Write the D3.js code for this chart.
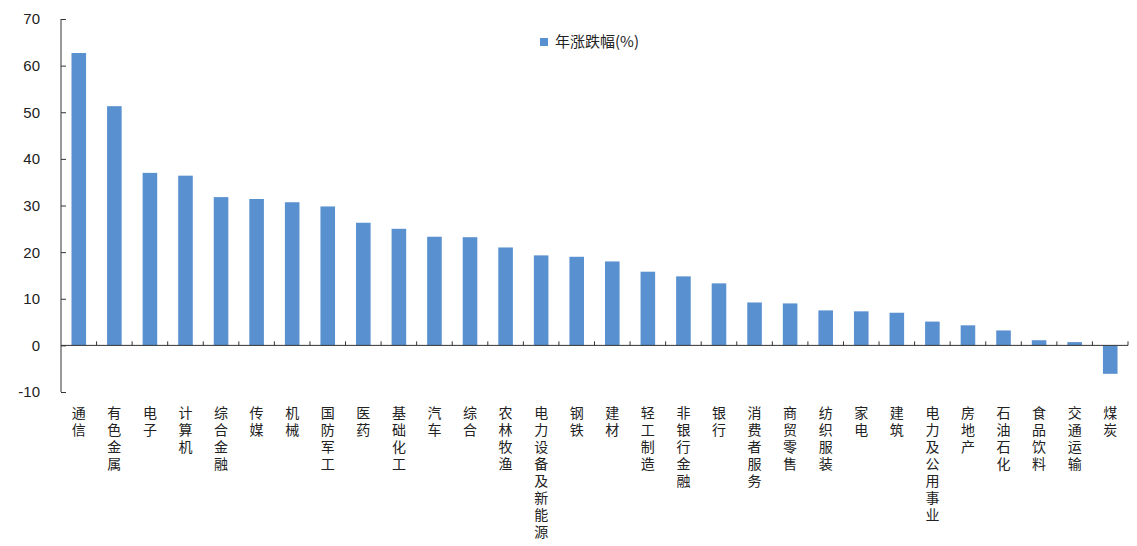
<!DOCTYPE html>
<html>
<head>
<meta charset="utf-8">
<script src="https://cdn.jsdelivr.net/npm/d3@7"></script>
<style>
  body { margin: 0; background: #fff; }
  svg { display: block; }
</style>
</head>
<body>
<div id="chart"></div>
<script>
var categories = ["通信", "有色金属", "电子", "计算机", "综合金融", "传媒", "机械", "国防军工", "医药", "基础化工",
    "汽车", "综合", "农林牧渔", "电力设备及新能源", "钢铁", "建材", "轻工制造", "非银行金融", "银行", "消费者服务",
    "商贸零售", "纺织服装", "家电", "建筑", "电力及公用事业", "房地产", "石油石化", "食品饮料", "交通运输", "煤炭"];
var values = [62.7, 51.3, 37.0, 36.4, 31.8, 31.4, 30.7, 29.8, 26.3, 25.0,
    23.3, 23.2, 21.0, 19.3, 19.0, 18.0, 15.8, 14.8, 13.3, 9.2,
    9.0, 7.5, 7.3, 7.0, 5.1, 4.3, 3.2, 1.1, 0.7, -6.1];
var yTicks = [-10, 0, 10, 20, 30, 40, 50, 60, 70];
var seriesName = "年涨跌幅(%)";

var size = { width: 1137, height: 546 };
var plot = { left: 61, right: 1128, top: 19, bottom: 392 };
var barColor = "#5990d0";
var axisColor = "#333";

var svg = d3.select("#chart").append("svg")
    .attr("width", size.width)
    .attr("height", size.height);

// Scales
var x = d3.scaleBand()
    .domain(categories)
    .range([plot.left, plot.right])
    .paddingInner(0.59)
    .paddingOuter(0.295);

var y = d3.scaleLinear()
    .domain([-10, 70])
    .range([plot.bottom, plot.top]);

// Bars
svg.append("g").selectAll("rect")
    .data(values)
    .enter()
    .append("rect")
    .attr("x", (d, i) => x(categories[i]))
    .attr("width", x.bandwidth())
    .attr("y", d => y(Math.max(0, d)))
    .attr("height", d => Math.abs(y(d) - y(0)))
    .attr("fill", barColor);

// Y axis (ticks point inward)
var yAxis = svg.append("g")
    .attr("transform", "translate(" + plot.left + ",0)")
    .call(d3.axisRight(y).tickValues(yTicks).tickSize(5).tickFormat(""));
yAxis.select(".domain").attr("stroke", axisColor).attr("d", "M0," + y(70) + "V" + y(-10));
yAxis.selectAll(".tick line").attr("stroke", axisColor);

svg.append("g").selectAll("text")
    .data(yTicks)
    .enter()
    .append("text")
    .attr("x", 40)
    .attr("y", d => y(d))
    .attr("dy", "0.36em")
    .attr("text-anchor", "end")
    .attr("font-family", "'Liberation Sans', Arial, sans-serif")
    .attr("font-size", 15)
    .attr("fill", "#222")
    .text(d => d);

// X axis on zero line, ticks between categories pointing up
var step = x.step();
var bounds = d3.range(categories.length + 1).map(i => plot.left + i * step);
var xAxis = svg.append("g");
xAxis.append("line")
    .attr("x1", plot.left).attr("x2", plot.right)
    .attr("y1", y(0)).attr("y2", y(0))
    .attr("stroke", axisColor);
xAxis.selectAll(".xt")
    .data(bounds.slice(1))
    .enter()
    .append("line")
    .attr("x1", d => d).attr("x2", d => d)
    .attr("y1", y(0)).attr("y2", y(0) - 4)
    .attr("stroke", axisColor);

// Vertical category labels, one text each, set top to bottom
svg.append("g").selectAll("text")
    .data(categories)
    .enter()
    .append("text")
    .attr("x", d => x(d) + x.bandwidth() / 2)
    .attr("y", 406)
    .style("writing-mode", "vertical-rl")
    .style("text-orientation", "upright")
    .style("letter-spacing", "2.9px")
    .attr("font-family", "'Noto Sans CJK SC', sans-serif")
    .attr("font-size", 14)
    .attr("fill", "#222")
    .text(d => d);

// Legend
var legend = svg.append("g").attr("transform", "translate(540,38)");
legend.append("rect")
    .attr("width", 8).attr("height", 8)
    .attr("fill", barColor);
legend.append("text")
    .attr("x", 15).attr("y", 4)
    .attr("dy", "0.36em")
    .attr("font-family", "'Noto Sans CJK SC', sans-serif")
    .attr("font-size", 15)
    .attr("fill", "#222")
    .text(seriesName);
</script>
</body>
</html>
